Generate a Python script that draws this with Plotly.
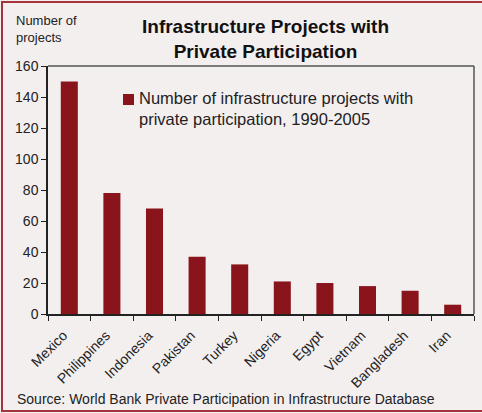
import plotly.graph_objects as go

countries = ["Mexico", "Philippines", "Indonesia", "Pakistan", "Turkey",
             "Nigeria", "Egypt", "Vietnam", "Bangladesh", "Iran"]
projects = [150, 78, 68, 37, 32, 21, 20, 18, 15, 6]
y_ticks = [0, 20, 40, 60, 80, 100, 120, 140, 160]
series_label = "Number of infrastructure projects with<br>private participation, 1990-2005"

BG = "#F4EFEF"
BAR = "#8A141C"
FONT = "Liberation Sans, Arial, sans-serif"

W, H = 482, 413
L, R, T, B = 48, 8, 66, 99
pw, ph = W - L - R, H - T - B

def px(x):
    return (x - L) / pw

def py(y):
    return (H - B - y) / ph

fig = go.Figure()
fig.add_trace(go.Bar(
    x=countries, y=projects, marker_color=BAR, marker_line_width=0,
    width=0.4, name=series_label, showlegend=False,
))

fig.update_layout(
    width=W, height=H,
    margin=dict(l=L, r=R, t=T, b=B),
    paper_bgcolor=BG, plot_bgcolor=BG,
    font=dict(family=FONT, size=14, color="#222"),
    showlegend=False,
    xaxis=dict(
        type="category", showline=True, linecolor="#222", linewidth=1.5,
        ticks="outside", ticklen=5, tickcolor="#222", tickson="boundaries",
        tickangle=-45, showgrid=False, mirror=False,
        ticklabelshift=-6, ticklabelstandoff=6,
        tickfont=dict(size=14, color="#222"),
    ),
    yaxis=dict(
        range=[0, 160], tickvals=y_ticks, showline=True, linecolor="#222",
        linewidth=1.5, ticks="outside", ticklen=5, tickcolor="#222",
        showgrid=False, zeroline=False, tickfont=dict(size=14, color="#222"),
    ),
    bargap=0.6,
)

# top and right frame lines of the plot area
fig.add_shape(type="line", xref="paper", yref="paper", x0=0, x1=1, y0=1, y1=1,
              line=dict(color="#555", width=1.5))
fig.add_shape(type="line", xref="paper", yref="paper", x0=1, x1=1, y0=0, y1=1,
              line=dict(color="#555", width=1.5))

# outer border
fig.add_shape(type="rect", xref="paper", yref="paper",
              x0=px(2), x1=px(490), y0=py(411), y1=py(2),
              line=dict(color="#A3343B", width=2), layer="above")

# legend key
fig.add_shape(type="rect", xref="paper", yref="paper",
              x0=px(123), x1=px(134), y0=py(105), y1=py(94),
              fillcolor=BAR, line=dict(width=0))
fig.add_annotation(text=series_label, xref="paper", yref="paper",
                   x=px(137), y=py(87), xanchor="left", yanchor="top",
                   showarrow=False, align="left",
                   font=dict(size=16.5, color="#222"))

fig.add_annotation(text="<b>Infrastructure Projects with<br>Private Participation</b>",
                   xref="paper", yref="paper", x=px(265), y=py(14),
                   xanchor="center", yanchor="top", showarrow=False,
                   font=dict(size=19, color="#111"), align="center")
fig.add_annotation(text="Number of<br>projects", xref="paper", yref="paper",
                   x=px(14), y=py(11), xanchor="left", yanchor="top",
                   showarrow=False, font=dict(size=13, color="#222"), align="left")
fig.add_annotation(text="Source: World Bank Private Participation in Infrastructure Database",
                   xref="paper", yref="paper", x=px(15), y=py(399),
                   xanchor="left", yanchor="middle", showarrow=False,
                   font=dict(size=14, color="#222"))

fig.write_html("out.html", config={"displayModeBar": False},
               post_script="document.body.style.margin='0';")
